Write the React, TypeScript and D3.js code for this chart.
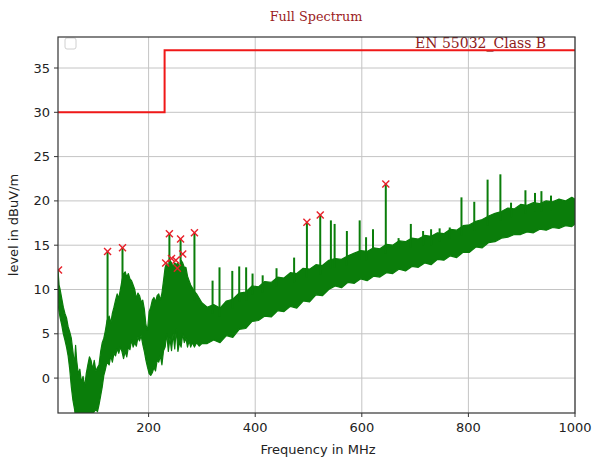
import React from "react";
import * as d3 from "d3";

// ---- data ----
const bandFreq = [30, 32, 34, 37, 40, 43, 46, 49, 52, 55, 58, 61, 63, 65, 68, 71, 74, 77, 80, 83, 86, 89, 92, 95, 98, 101, 104, 107, 110, 113, 116, 119, 122, 126, 129, 132, 135, 138, 141, 144, 147, 150, 153, 156, 159, 162, 165, 168, 171, 174, 177, 180, 183, 186, 189, 192, 195, 198, 201, 204, 207, 210, 213, 216, 219, 222, 225, 228, 231, 234, 237, 240, 243, 246, 249, 252, 255, 258, 261, 264, 267, 270, 273, 276, 279, 282, 286, 290, 295, 300, 310, 322, 334, 346, 358, 370, 382, 394, 406, 418, 430, 442, 454, 466, 478, 490, 502, 514, 526, 538, 550, 562, 574, 586, 598, 610, 622, 634, 646, 658, 670, 682, 694, 706, 718, 730, 742, 754, 766, 778, 790, 802, 814, 826, 838, 850, 862, 874, 886, 898, 910, 922, 934, 946, 958, 970, 982, 994, 1000];
const bandTop = [12.2, 10.5, 10.0, 9.0, 8.0, 7.3, 6.8, 5.8, 5.2, 4.5, 3.0, 1.5, 3.7, 2.0, 0.5, 1.0, -0.5, 0.2, -1.0, 0.5, 1.5, 2.4, 2.0, 1.0, 2.0, 0.8, 1.2, 1.5, 3.0, 4.0, 4.5, 5.4, 6.5, 7.0, 6.2, 7.3, 8.0, 8.8, 9.5, 9.0, 10.0, 11.0, 11.8, 12.0, 11.4, 11.8, 11.2, 11.0, 10.5, 10.0, 9.0, 9.6, 9.3, 8.6, 8.8, 7.8, 6.0, 5.4, 7.5, 8.0, 8.8, 9.1, 8.6, 9.3, 9.5, 8.8, 9.6, 11.0, 12.5, 13.0, 12.5, 13.3, 13.0, 12.6, 13.0, 12.8, 13.0, 12.4, 13.3, 13.0, 12.5, 12.5, 11.5, 11.0, 10.5, 10.2, 9.8, 9.5, 9.0, 8.5, 8.0, 8.3, 7.9, 8.7, 8.9, 9.6, 9.7, 10.4, 10.3, 10.9, 10.8, 11.4, 11.3, 11.9, 11.8, 12.4, 12.3, 12.8, 12.7, 13.3, 13.5, 13.4, 13.8, 14.1, 14.4, 14.3, 14.7, 14.6, 15.1, 15.0, 15.5, 15.4, 15.8, 15.7, 16.1, 16.0, 16.4, 16.3, 16.8, 16.7, 17.2, 17.3, 17.7, 17.9, 18.3, 18.6, 18.8, 19.2, 19.1, 19.6, 19.5, 19.8, 19.7, 20.0, 19.9, 20.2, 20.0, 20.4, 20.2];
const bandBottom = [8.5, 7.5, 6.8, 6.0, 5.0, 4.3, 3.5, 2.5, 1.0, -1.0, -2.5, -3.5, -4.5, -4.5, -4.5, -4.5, -4.5, -4.5, -4.5, -4.5, -4.5, -4.2, -4.5, -4.0, -3.8, -3.5, -3.8, -3.0, -2.0, -1.0, 0.3, 1.0, 1.8, 1.5, 2.5, 1.8, 2.8, 2.5, 3.3, 2.8, 3.5, 3.0, 2.2, 3.0, 2.4, 3.5, 3.2, 4.3, 3.5, 4.0, 3.6, 4.6, 4.2, 4.8, 3.8, 3.0, 2.0, 1.2, 0.5, 0.3, 0.6, 1.2, 0.8, 2.0, 1.8, 2.5, 1.5, 3.1, 3.5, 5.0, 3.0, 4.5, 3.1, 5.0, 3.3, 5.5, 3.0, 4.0, 3.5, 5.0, 4.0, 4.5, 3.5, 4.2, 3.5, 4.0, 3.5, 4.0, 3.6, 3.9, 3.9, 4.3, 4.0, 4.8, 4.6, 5.5, 5.6, 6.4, 6.5, 7.0, 6.9, 7.6, 7.5, 8.1, 7.9, 8.7, 8.6, 9.4, 9.3, 10.0, 10.4, 10.2, 10.8, 10.7, 11.2, 11.0, 11.5, 11.4, 11.9, 11.8, 12.3, 12.1, 12.6, 12.5, 13.0, 12.8, 13.4, 13.3, 13.8, 13.6, 14.2, 14.2, 14.8, 14.7, 15.3, 15.4, 15.8, 15.9, 16.2, 16.2, 16.5, 16.4, 16.8, 16.7, 17.0, 16.9, 17.2, 17.1, 17.4];

const spikeFreq = [123, 151, 239, 260, 286, 320, 333, 357, 370, 383, 395, 414, 440, 473, 497, 522, 542, 549, 572, 596, 608, 621, 645, 669, 692, 715, 730, 746, 765, 787, 811, 836, 860, 880, 907, 925, 937, 955];
const spikeTop = [14.3, 14.7, 16.3, 15.7, 16.4, 11.0, 12.5, 12.1, 12.6, 12.5, 11.8, 11.6, 12.4, 13.6, 17.6, 18.4, 17.8, 17.4, 16.6, 17.8, 15.9, 16.8, 21.9, 15.8, 17.4, 16.6, 16.8, 16.9, 17.0, 20.4, 19.9, 22.4, 23.0, 19.8, 21.2, 20.9, 21.1, 20.6];

const peakFreq = [31, 123, 151, 232, 239, 243, 251, 254, 260, 264, 286, 497, 522, 645];
const peakLevel = [12.2, 14.3, 14.7, 13.0, 16.3, 13.5, 13.3, 12.4, 15.7, 14.0, 16.4, 17.6, 18.4, 21.9];

const limitFreq = [30, 230, 230, 1000];
const limitLevel = [30, 30, 37, 37];
const limitLabel = "EN 55032_Class B";

const xTicks = [200, 400, 600, 800, 1000];
const yTicks = [0, 5, 10, 15, 20, 25, 30, 35];

const W = 593, H = 462;
const L = 58, R = 575, T = 37, B = 413;

export default function App() {
  const x = d3.scaleLinear().domain([30, 1000]).range([L, R]);
  const y = d3.scaleLinear().domain([-3.94, 38.5]).range([B, T]);

  const band = bandFreq.map((f, i) => ({ f, hi: bandTop[i], lo: bandBottom[i] }));
  const area = d3.area<any>().x(d => x(d.f)).y0(d => y(d.lo)).y1(d => y(d.hi))(band) || "";
  const topInterp = (f: number) => {
    const i = Math.max(1, d3.bisectLeft(bandFreq, f));
    const f0 = bandFreq[i - 1], f1 = bandFreq[i];
    const t = (f - f0) / (f1 - f0);
    return bandTop[i - 1] + t * (bandTop[i] - bandTop[i - 1]);
  };
  const limitPath = d3.line<number>().x((_, i) => x(limitFreq[i])).y((_, i) => y(limitLevel[i]))(limitFreq) || "";

  const green = "#0a7d0a";
  const sans = "DejaVu Sans, sans-serif";
  const serif = "DejaVu Serif, serif";

  return (
    <svg width={W} height={H} style={{ position: "absolute", left: 0, top: 0, background: "#fff" }}>
      <defs>
        <clipPath id="plot">
          <rect x={L} y={T} width={R - L} height={B - T} />
        </clipPath>
      </defs>
      <rect x={0} y={0} width={W} height={H} fill="#fff" />
      <text x={316} y={21} textAnchor="middle" fontFamily={serif} fontSize={12.8} fill="#9b1c24">Full Spectrum</text>
      {/* grid */}
      {xTicks.map(t => (
        <line key={"gx" + t} x1={x(t)} x2={x(t)} y1={T} y2={B} stroke="#c4c4c4" strokeWidth={1} />
      ))}
      {yTicks.map(t => (
        <line key={"gy" + t} x1={L} x2={R} y1={y(t)} y2={y(t)} stroke="#c4c4c4" strokeWidth={1} />
      ))}
      <g clipPath="url(#plot)">
        <path d={area} fill={green} stroke={green} strokeWidth={1.2} strokeLinejoin="round" />
        {spikeFreq.map((f, i) => (
          <line key={"s" + i} x1={x(f)} x2={x(f)} y1={y(topInterp(f) - 1)} y2={y(spikeTop[i])} stroke={green} strokeWidth={2} />
        ))}
        <path d={limitPath} fill="none" stroke="#f01818" strokeWidth={2} />
        {peakFreq.map((f, i) => {
          const cx = x(f), cy = y(peakLevel[i]), s = 3.5;
          return (
            <g key={"p" + i} stroke="#e8202a" strokeWidth={1.4}>
              <line x1={cx - s} y1={cy - s} x2={cx + s} y2={cy + s} />
              <line x1={cx - s} y1={cy + s} x2={cx + s} y2={cy - s} />
            </g>
          );
        })}
      </g>
      <text x={415} y={48} fontFamily={serif} fontSize={14} fill="#8e1a1a">{limitLabel}</text>
      <rect x={65} y={38} width={11} height={11} rx={2} fill="#fff" stroke="#d0d0d0" strokeWidth={1} />
      {/* frame */}
      <rect x={L} y={T} width={R - L} height={B - T} fill="none" stroke="#333" strokeWidth={1.2} />
      {/* ticks */}
      {xTicks.map(t => (
        <g key={"tx" + t}>
          <line x1={x(t)} x2={x(t)} y1={B} y2={B + 4} stroke="#333" />
          <text x={x(t)} y={B + 19} textAnchor="middle" fontFamily={sans} fontSize={13} fill="#222">{t}</text>
        </g>
      ))}
      {yTicks.map(t => (
        <g key={"ty" + t}>
          <line x1={L - 4} x2={L} y1={y(t)} y2={y(t)} stroke="#333" />
          <text x={L - 8} y={y(t) + 4.5} textAnchor="end" fontFamily={sans} fontSize={13} fill="#222">{t}</text>
        </g>
      ))}
      <text x={318} y={454} textAnchor="middle" fontFamily={sans} fontSize={13} fill="#222">Frequency in MHz</text>
      <text transform={`translate(18,225) rotate(-90)`} textAnchor="middle" fontFamily={sans} fontSize={13} fill="#222">level in dBuV/m</text>
    </svg>
  );
}
